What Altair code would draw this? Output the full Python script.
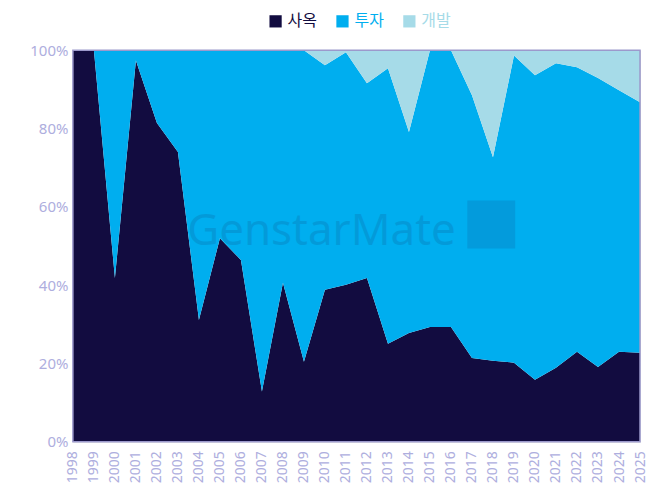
import altair as alt
import pandas as pd

years = [1998, 1999, 2000, 2001, 2002, 2003, 2004, 2005, 2006, 2007, 2008, 2009, 2010,
         2011, 2012, 2013, 2014, 2015, 2016, 2017, 2018, 2019, 2020, 2021, 2022, 2023,
         2024, 2025]
series = ["사옥", "투자", "개발"]
colors = ["#120c40", "#00aeef", "#a6dbe8"]

office = [100, 100, 41.8, 97.4, 81.4, 74.0, 31.1, 52.0, 46.4, 12.8, 40.6, 20.4, 38.8,
          40.1, 41.8, 25.0, 27.8, 29.3, 29.3, 21.4, 20.7, 20.2, 15.8, 18.9, 23.0, 19.1,
          23.0, 22.7]
invest = [0, 0, 58.2, 2.6, 18.6, 26.0, 68.9, 48.0, 53.6, 87.2, 59.4, 79.6, 57.4,
          59.4, 49.8, 70.4, 51.3, 70.7, 70.7, 67.1, 52.0, 78.5, 77.8, 77.8, 72.7, 73.8,
          66.8, 64.0]
develop = [0, 0, 0, 0, 0, 0, 0, 0, 0, 0, 0, 0, 3.8,
           0.5, 8.4, 4.6, 20.9, 0, 0, 11.5, 27.3, 1.3, 6.4, 3.3, 4.3, 7.1,
           10.2, 13.3]
y_ticks = [0, 20, 40, 60, 80, 100]

rows = []
for i, y in enumerate(years):
    for k, (name, vals) in enumerate(zip(series, [office, invest, develop])):
        rows.append({"year": str(y), "series": name, "value": vals[i], "ord": k})
df = pd.DataFrame(rows)
year_labels = [str(y) for y in years]

label_expr = ("datum.label == '사옥' ? '#120c40' : "
              "(datum.label == '투자' ? '#00aeef' : '#a6dbe8')")

xscale = alt.Scale(type="point", domain=year_labels, padding=0)
yscale = alt.Scale(domain=[0, 100], nice=False)

area = alt.Chart(df).mark_area(interpolate="linear", opacity=1).encode(
    x=alt.X("year:O", scale=xscale, sort=year_labels,
            axis=alt.Axis(labelAngle=-90, labelAlign="right",
                          labelBaseline="middle", labelPadding=9, ticks=False,
                          domain=False, grid=False, title=None, labelFontSize=14,
                          labelColor="#aeaede", labelFont="Noto Sans",
                          labelOverlap=False)),
    y=alt.Y("value:Q", stack="zero", scale=yscale,
            axis=alt.Axis(values=y_ticks, labelExpr="datum.value + '%'", ticks=False,
                          domain=False, grid=False, title=None, labelFontSize=15,
                          labelPadding=5, labelColor="#aeaede", labelFont="Noto Sans")),
    color=alt.Color("series:N", scale=alt.Scale(domain=series, range=colors),
                    legend=alt.Legend(title=None, orient="none", direction="horizontal",
                                      legendX=195, legendY=-37, symbolType="square",
                                      symbolSize=150, symbolStrokeWidth=0,
                                      labelFontSize=16, labelFont="Noto Sans CJK KR",
                                      labelColor={"expr": label_expr},
                                      labelOffset=4, columnPadding=17)),
    order=alt.Order("ord:Q", sort="ascending"),
)

wm_text = alt.Chart(pd.DataFrame({"t": ["GenstarMate"]})).mark_text(
    font="Noto Sans", fontSize=44, color="#1a1a50", opacity=0.13, align="center",
    baseline="middle"
).encode(x=alt.value(249), y=alt.datum(53.6), text="t:N")

wm_logo = alt.Chart(pd.DataFrame({"t": ["logo"]})).mark_point(
    shape="square", filled=True, size=2300, color="#1a1a50", opacity=0.12
).encode(x=alt.value(419), y=alt.datum(55.5))

frame = alt.Chart(pd.DataFrame({"t": ["frame"]})).mark_rect(
    fillOpacity=0, stroke="#9c99cc", strokeWidth=1.5
).encode(x=alt.value(0), x2=alt.value(568), y=alt.value(0), y2=alt.value(392))

chart = alt.layer(area, wm_text, wm_logo, frame).properties(
    width=568, height=392,
    autosize=alt.AutoSizeParams(type="none"),
    padding={"left": 65, "top": 42, "right": 8, "bottom": 46},
).configure_view(stroke=None).configure(background="white")

chart.save("out.html", embed_options={"renderer": "svg", "actions": False})
